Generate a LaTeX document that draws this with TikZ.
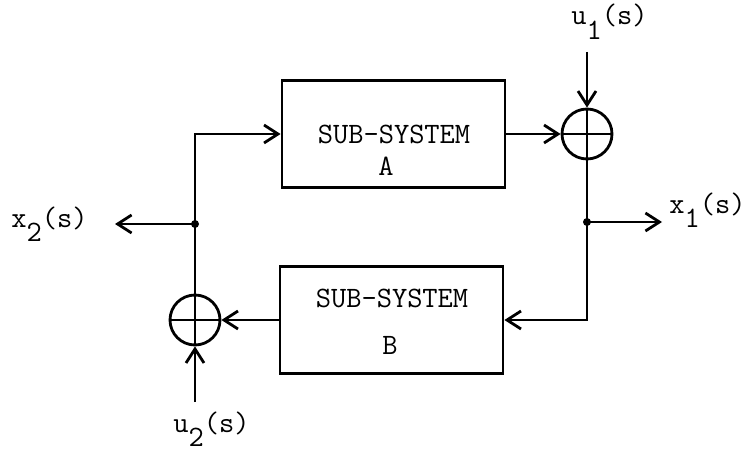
\documentclass[tikz,border=0pt]{standalone}
\usepackage{fontspec}
\usetikzlibrary{arrows.meta}
\newcommand{\sig}[2]{#1\raisebox{-0.5em}{#2}(s)}

\begin{document}
\begin{tikzpicture}[x=0.5pt,y=-0.5pt,line width=1.4pt,
  >={Straight Barb[length=7pt,width=9pt]},
  box/.style={draw,minimum width=111.5pt,minimum height=53.5pt,inner sep=0pt},
  sum/.style={draw,circle,minimum size=25pt,inner sep=0pt},
  dot/.style={circle,fill,inner sep=0pt,minimum size=4pt},
  txt/.style={font=\ttfamily\fontsize{14.8}{17}\selectfont,inner sep=0pt}]
  \useasboundingbox (0,0) rectangle (747,454);
  % sub-systems
  \node[box] (subA) at (393.5,134) {};
  \node[txt] (tA1) at (394,134) {SUB-SYSTEM};
  \node[txt] (tA2) at (386,166) {A};
  \node[box] (subB) at (391.5,320) {};
  \node[txt] (tB1) at (392,298) {SUB-SYSTEM};
  \node[txt] (tB2) at (390,345) {B};
  % summing points
  \node[sum] (sumA) at (587,134) {};
  \draw (sumA.north) -- (sumA.south) (sumA.west) -- (sumA.east);
  \node[sum] (sumB) at (195,320) {};
  \draw (sumB.north) -- (sumB.south) (sumB.west) -- (sumB.east);
  % branch points and free ends
  \node[dot] (j1) at (587,222) {};
  \node[dot] (j2) at (195,224) {};
  \coordinate (x1end) at (662,222);
  \coordinate (x2end) at (115,224);
  \coordinate (u1top) at (587,52);
  \coordinate (u2bot) at (195,402);
  % signal labels
  \node[txt,anchor=base west] (u1) at (570,25) {\sig{u}{1}};
  \node[txt,anchor=base west] (x1) at (668,213) {\sig{x}{1}};
  \node[txt,anchor=base west] (x2) at (10,227) {\sig{x}{2}};
  \node[txt,anchor=base west] (u2) at (172,432) {\sig{u}{2}};
  % connections
  \draw[->] (subA.east) -- (sumA.west);
  \draw[->] (u1top) -- (sumA.north);
  \draw[->] (sumA.south) |- (subB.east);
  \draw[->] (j1.center) -- (x1end);
  \draw[->] (subB.west) -- (sumB.east);
  \draw[->] (u2bot) -- (sumB.south);
  \draw[->] (sumB.north) |- (subA.west);
  \draw[->] (j2.center) -- (x2end);
\end{tikzpicture}
\end{document}
